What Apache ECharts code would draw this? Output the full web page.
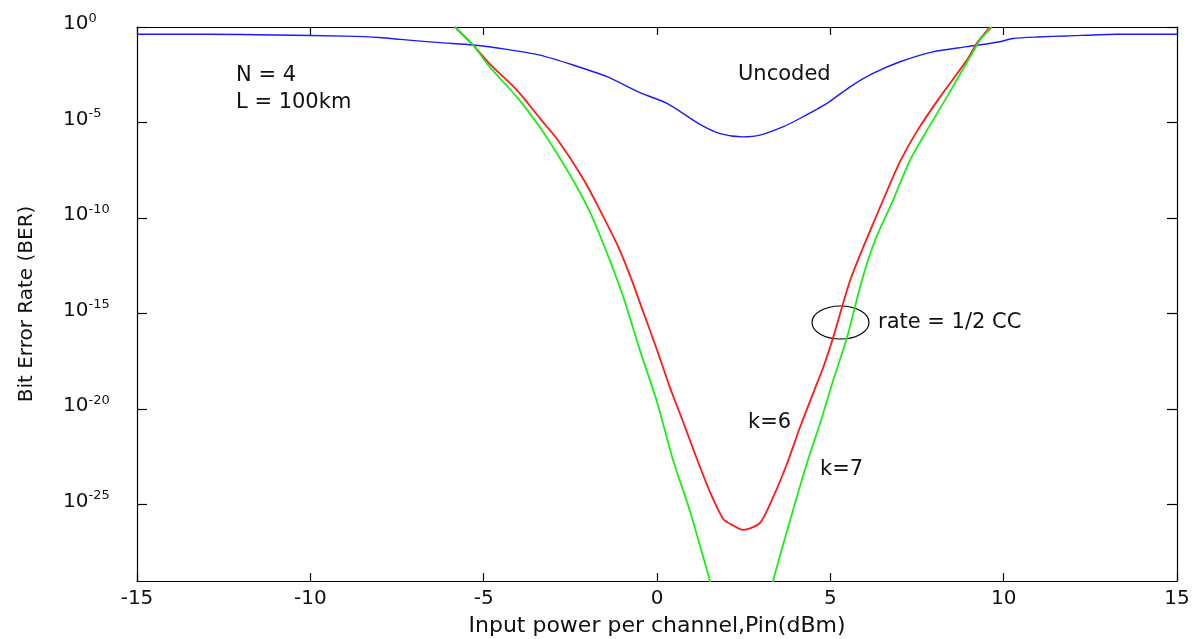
<!DOCTYPE html>
<html>
<head>
<meta charset="utf-8">
<script src="https://cdn.jsdelivr.net/npm/echarts@6/dist/echarts.min.js"></script>
<style>
html,body{margin:0;padding:0;background:#fff;}
#chart{width:1194px;height:639px;}
</style>
</head>
<body>
<div id="chart"></div>
<script>
// ---- data: x = input power (dBm), y = log10(BER) ----
const xTickStep = 5;
const yTickExponents = [0, -5, -10, -15, -20, -25];

const uncoded = [
  [-15,-0.38],[-13,-0.38],[-11,-0.42],[-9,-0.48],[-8,-0.55],[-7.4,-0.65],[-6.26,-0.82],
  [-5.31,-0.94],[-4.33,-1.17],[-3.38,-1.47],[-2.42,-1.99],[-1.44,-2.6],[-0.49,-3.44],
  [0.29,-4.0],[1.24,-5.1],[1.82,-5.58],[2.48,-5.75],[2.97,-5.66],[3.63,-5.23],[4.12,-4.79],
  [4.9,-4.0],[5.57,-3.13],[6.23,-2.43],[7.01,-1.82],[7.96,-1.3],[8.94,-1.03],[9.89,-0.77],
  [10.27,-0.6],[11.0,-0.52],[11.82,-0.47],[13.27,-0.38],[15,-0.38]
];

const ccK6 = [
  [-5.83,0],[-5.31,-0.94],[-4.82,-1.94],[-4.04,-3.30],[-3.38,-4.77],[-2.89,-5.85],[-2.42,-7.1],
  [-2.08,-8.1],[-1.74,-9.25],[-1.16,-11.34],[-0.78,-13.0],[-0.40,-14.9],[-0.01,-16.85],
  [0.37,-18.85],[0.76,-20.7],[1.15,-22.6],[1.53,-24.35],[1.91,-25.75],[2.2,-26.1],[2.48,-26.32],
  [2.97,-25.96],[3.34,-24.65],[3.75,-22.86],[4.12,-20.98],[4.50,-19.19],[4.80,-17.8],[5.08,-16.26],
  [5.57,-13.27],[6.03,-11.17],[6.52,-9.07],[7.01,-7.05],[7.50,-5.45],[8.16,-3.67],[8.94,-1.73],
  [9.23,-0.84],[9.6,0]
];

const ccK7Falling = [
  [-5.83,0],[-5.31,-0.94],[-4.82,-2.10],[-4.04,-3.67],[-3.38,-5.24],[-2.89,-6.61],[-2.42,-8.02],
  [-1.93,-9.7],[-1.45,-11.8],[-0.97,-14.14],[-0.49,-16.94],[-0.01,-19.56],[0.47,-22.71],
  [0.95,-25.33],[1.53,-29.0],[1.6,-29.4]
];
const ccK7Rising = [
  [3.32,-29.4],[3.34,-29.05],[3.75,-26.38],[4.32,-22.86],[4.70,-20.77],[5.08,-18.51],[5.48,-16.26],
  [5.91,-13.27],[6.29,-11.17],[6.81,-9.07],[7.30,-6.97],[7.79,-5.40],[8.36,-3.67],[9.03,-1.57],
  [9.32,-0.68],[9.66,0]
];

const FONT = 'DejaVu Sans';
const TXT = '#111';

const chart = echarts.init(document.getElementById('chart'), null, {renderer: 'canvas'});

const yLabelRich = {
  b: {fontSize: 20, fontFamily: FONT, color: TXT, lineHeight: 22, verticalAlign: 'bottom'},
  s: {fontSize: 13, fontFamily: FONT, color: TXT, lineHeight: 14, verticalAlign: 'top'}
};

const lineStyleAxis = {color: '#000', width: 1.2};
const SMOOTH = 0.25;

const option = {
  animation: false,
  backgroundColor: '#fff',
  grid: {left: 137, right: 17, top: 27, bottom: 58, containLabel: false, outerBoundsMode: 'none'},
  xAxis: [
    {
      type: 'value', min: -15, max: 15, interval: xTickStep, position: 'bottom',
      axisLine: {show: true, onZero: false, lineStyle: lineStyleAxis},
      axisTick: {show: true, inside: true, length: 8, lineStyle: lineStyleAxis},
      axisLabel: {fontSize: 20, fontFamily: FONT, color: TXT, margin: 8},
      splitLine: {show: false},
      name: 'Input power per channel,Pin(dBm)', nameLocation: 'middle', nameGap: 34,
      nameTextStyle: {fontSize: 22, fontFamily: FONT, color: TXT}
    },
    {
      type: 'value', min: -15, max: 15, interval: xTickStep, position: 'top',
      axisLine: {show: true, onZero: false, lineStyle: lineStyleAxis},
      axisTick: {show: true, inside: true, length: 8, lineStyle: lineStyleAxis},
      axisLabel: {show: false}, splitLine: {show: false}
    }
  ],
  yAxis: [
    {
      type: 'value', min: -29, max: 0, position: 'left',
      axisLine: {show: true, onZero: false, lineStyle: lineStyleAxis},
      axisTick: {show: true, inside: true, length: 10, customValues: yTickExponents, lineStyle: lineStyleAxis},
      axisLabel: {
        customValues: yTickExponents, align: 'left', margin: 74, padding: [0, 0, 8, 0],
        formatter: v => '{b|10}{s|' + v + '}', rich: yLabelRich
      },
      splitLine: {show: false},
      name: 'Bit Error Rate (BER)', nameLocation: 'middle', nameGap: 100,
      nameTextStyle: {fontSize: 20, fontFamily: FONT, color: TXT}
    },
    {
      type: 'value', min: -29, max: 0, position: 'right',
      axisLine: {show: true, onZero: false, lineStyle: lineStyleAxis},
      axisTick: {show: true, inside: true, length: 10, customValues: yTickExponents, lineStyle: lineStyleAxis},
      axisLabel: {show: false}, splitLine: {show: false}
    }
  ],
  series: [
    {name: 'Uncoded', type: 'line', data: uncoded, showSymbol: false, symbol: 'none', smooth: SMOOTH,
     lineStyle: {color: '#1a1aff', width: 1.4}, itemStyle: {color: '#1a1aff'}, clip: true},
    {name: 'k=6', type: 'line', data: ccK6, showSymbol: false, symbol: 'none', smooth: SMOOTH,
     lineStyle: {color: '#ff1a1a', width: 1.8}, itemStyle: {color: '#ff1a1a'}, clip: true},
    {name: 'k=7', type: 'line', data: ccK7Falling, showSymbol: false, symbol: 'none', smooth: SMOOTH,
     lineStyle: {color: '#1aee1a', width: 1.8}, itemStyle: {color: '#1aee1a'}, clip: true},
    {name: 'k=7', type: 'line', data: ccK7Rising, showSymbol: false, symbol: 'none', smooth: SMOOTH,
     lineStyle: {color: '#1aee1a', width: 1.8}, itemStyle: {color: '#1aee1a'}, clip: true}
  ],
  graphic: [
    {type: 'text', x: 236, y: 76, style: {text: 'N = 4', font: '21px "DejaVu Sans"', fill: TXT, verticalAlign: 'middle'}},
    {type: 'text', x: 236, y: 103, style: {text: 'L = 100km', font: '21px "DejaVu Sans"', fill: TXT, verticalAlign: 'middle'}},
    {type: 'text', x: 738, y: 75, style: {text: 'Uncoded', font: '21px "DejaVu Sans"', fill: TXT, verticalAlign: 'middle'}},
    {type: 'text', x: 878, y: 323, style: {text: 'rate = 1/2 CC', font: '21px "DejaVu Sans"', fill: TXT, verticalAlign: 'middle'}},
    {type: 'text', x: 748, y: 423, style: {text: 'k=6', font: '21px "DejaVu Sans"', fill: TXT, verticalAlign: 'middle'}},
    {type: 'text', x: 820, y: 470, style: {text: 'k=7', font: '21px "DejaVu Sans"', fill: TXT, verticalAlign: 'middle'}},
    {type: 'ellipse', shape: {cx: 840.5, cy: 322.5, rx: 28.5, ry: 16.5}, style: {fill: 'none', stroke: '#000', lineWidth: 1.2}}
  ]
};

chart.setOption(option);
</script>
</body>
</html>
